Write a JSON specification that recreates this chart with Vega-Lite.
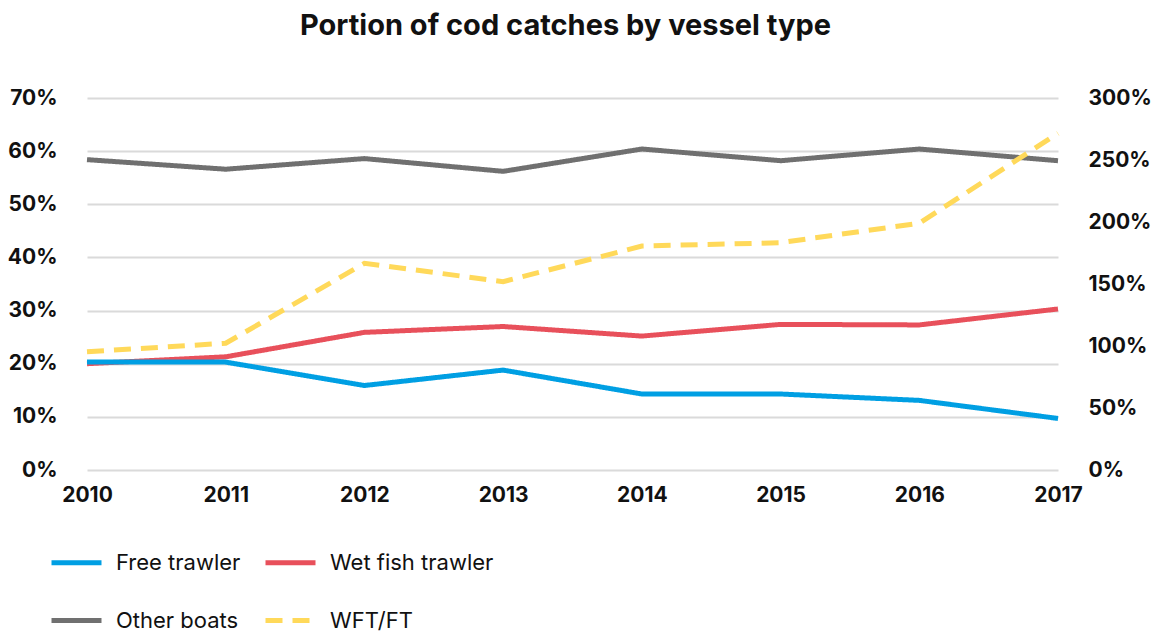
{
  "$schema": "https://vega.github.io/schema/vega-lite/v6.json",
  "width": 971,
  "height": 372,
  "autosize": {"type": "none"},
  "padding": {"left": 87, "top": 98, "right": 97, "bottom": 163},
  "background": "white",
  "title": {
    "text": "Portion of cod catches by vessel type",
    "font": "Inter",
    "fontSize": 29,
    "fontWeight": "bold",
    "color": "#111111",
    "anchor": "middle",
    "baseline": "alphabetic",
    "offset": 23,
    "dx": -7
  },
  "config": {
    "view": {"stroke": null},
    "axis": {
      "labelFont": "Inter",
      "labelFontWeight": "bold",
      "labelFontSize": 21,
      "labelColor": "#111111",
      "domain": false,
      "ticks": false,
      "title": null
    },
    "legend": {
      "orient": "none",
      "legendX": -38,
      "legendY": 437,
      "columns": 2,
      "direction": "horizontal",
      "columnPadding": 14,
      "rowPadding": 19,
      "symbolType": "stroke",
      "symbolSize": 2500,
      "symbolStrokeWidth": 5,
      "labelFont": "Inter",
      "labelFontSize": 22,
      "labelColor": "#111111",
      "labelOffset": 12,
      "labelLimit": 400,
      "title": null
    }
  },
  "datasets": {
    "shares": [
      {"year": "2010", "series": "Other boats", "value": 0.584},
      {"year": "2011", "series": "Other boats", "value": 0.566},
      {"year": "2012", "series": "Other boats", "value": 0.586},
      {"year": "2013", "series": "Other boats", "value": 0.562},
      {"year": "2014", "series": "Other boats", "value": 0.604},
      {"year": "2015", "series": "Other boats", "value": 0.582},
      {"year": "2016", "series": "Other boats", "value": 0.604},
      {"year": "2017", "series": "Other boats", "value": 0.582},
      {"year": "2010", "series": "Wet fish trawler", "value": 0.200},
      {"year": "2011", "series": "Wet fish trawler", "value": 0.213},
      {"year": "2012", "series": "Wet fish trawler", "value": 0.259},
      {"year": "2013", "series": "Wet fish trawler", "value": 0.270},
      {"year": "2014", "series": "Wet fish trawler", "value": 0.252},
      {"year": "2015", "series": "Wet fish trawler", "value": 0.274},
      {"year": "2016", "series": "Wet fish trawler", "value": 0.273},
      {"year": "2017", "series": "Wet fish trawler", "value": 0.303},
      {"year": "2010", "series": "Free trawler", "value": 0.203},
      {"year": "2011", "series": "Free trawler", "value": 0.203},
      {"year": "2012", "series": "Free trawler", "value": 0.159},
      {"year": "2013", "series": "Free trawler", "value": 0.188},
      {"year": "2014", "series": "Free trawler", "value": 0.143},
      {"year": "2015", "series": "Free trawler", "value": 0.143},
      {"year": "2016", "series": "Free trawler", "value": 0.131},
      {"year": "2017", "series": "Free trawler", "value": 0.097}
    ],
    "ratio": [
      {"year": "2010", "series": "WFT/FT", "value": 0.954},
      {"year": "2011", "series": "WFT/FT", "value": 1.022},
      {"year": "2012", "series": "WFT/FT", "value": 1.667},
      {"year": "2013", "series": "WFT/FT", "value": 1.519},
      {"year": "2014", "series": "WFT/FT", "value": 1.806},
      {"year": "2015", "series": "WFT/FT", "value": 1.833},
      {"year": "2016", "series": "WFT/FT", "value": 1.990},
      {"year": "2017", "series": "WFT/FT", "value": 2.715}
    ]
  },
  "encoding": {
    "x": {
      "field": "year",
      "type": "ordinal",
      "scale": {"type": "point", "padding": 0},
      "axis": {"labelAngle": 0, "labelPadding": 14, "grid": false}
    },
    "color": {
      "field": "series",
      "type": "nominal",
      "scale": {
        "domain": ["Free trawler", "Wet fish trawler", "Other boats", "WFT/FT"],
        "range": ["#009FE3", "#E8505B", "#707070", "#FFD95A"]
      }
    },
    "strokeDash": {
      "field": "series",
      "type": "nominal",
      "scale": {
        "domain": ["Free trawler", "Wet fish trawler", "Other boats", "WFT/FT"],
        "range": [[1, 0], [1, 0], [1, 0], [17, 10]]
      }
    }
  },
  "layer": [
    {
      "data": {"name": "shares"},
      "mark": {"type": "line", "strokeWidth": 5},
      "encoding": {
        "y": {
          "field": "value",
          "type": "quantitative",
          "scale": {"domain": [0, 0.7], "nice": false},
          "axis": {
            "values": [0, 0.1, 0.2, 0.3, 0.4, 0.5, 0.6, 0.7],
            "format": ".0%",
            "labelPadding": 30,
            "grid": true,
            "gridColor": "#DADADA",
            "gridWidth": 2
          }
        }
      }
    },
    {
      "data": {"name": "ratio"},
      "mark": {"type": "line", "strokeWidth": 5},
      "encoding": {
        "y": {
          "field": "value",
          "type": "quantitative",
          "scale": {"domain": [0, 3], "nice": false},
          "axis": {
            "orient": "right",
            "values": [0, 0.5, 1, 1.5, 2, 2.5, 3],
            "format": ".0%",
            "labelPadding": 30,
            "grid": false
          }
        }
      }
    }
  ],
  "resolve": {"scale": {"y": "independent"}}
}
